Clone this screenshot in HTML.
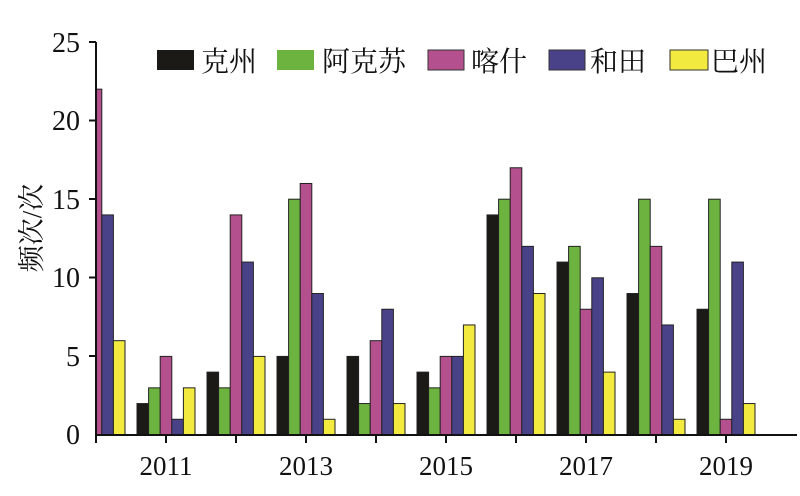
<!DOCTYPE html>
<html><head><meta charset="utf-8"><style>
body{margin:0;background:#fff}
svg text{font-family:"Liberation Serif","Noto Serif CJK SC",serif;fill:#111}
.a{fill:#1c1a17}.b{fill:#6db33f}.c{fill:#b5508f}.d{fill:#4a4289}.e{fill:#f2ea3f}
</style></head><body>
<svg width="800" height="491" viewBox="0 0 800 491" xmlns="http://www.w3.org/2000/svg">
<defs><clipPath id="cl"><rect x="96" y="0" width="710" height="436"/></clipPath></defs>
<g clip-path="url(#cl)" stroke="#222" stroke-width="1">
<!-- 2010 -->
<rect class="c" x="90.2" y="89.16" width="11.6" height="345.84"/>
<rect class="d" x="101.8" y="214.92" width="11.6" height="220.08"/>
<rect class="e" x="113.4" y="340.68" width="11.6" height="94.32"/>
<!-- 2011 -->
<rect class="a" x="137" y="403.56" width="11.6" height="31.44"/>
<rect class="b" x="148.6" y="387.84" width="11.6" height="47.16"/>
<rect class="c" x="160.2" y="356.4" width="11.6" height="78.6"/>
<rect class="d" x="171.8" y="419.28" width="11.6" height="15.72"/>
<rect class="e" x="183.4" y="387.84" width="11.6" height="47.16"/>
<!-- 2012 -->
<rect class="a" x="207" y="372.12" width="11.6" height="62.88"/>
<rect class="b" x="218.6" y="387.84" width="11.6" height="47.16"/>
<rect class="c" x="230.2" y="214.92" width="11.6" height="220.08"/>
<rect class="d" x="241.8" y="262.08" width="11.6" height="172.92"/>
<rect class="e" x="253.4" y="356.4" width="11.6" height="78.6"/>
<!-- 2013 -->
<rect class="a" x="277" y="356.4" width="11.6" height="78.6"/>
<rect class="b" x="288.6" y="199.2" width="11.6" height="235.8"/>
<rect class="c" x="300.2" y="183.48" width="11.6" height="251.52"/>
<rect class="d" x="311.8" y="293.52" width="11.6" height="141.48"/>
<rect class="e" x="323.4" y="419.28" width="11.6" height="15.72"/>
<!-- 2014 -->
<rect class="a" x="347" y="356.4" width="11.6" height="78.6"/>
<rect class="b" x="358.6" y="403.56" width="11.6" height="31.44"/>
<rect class="c" x="370.2" y="340.68" width="11.6" height="94.32"/>
<rect class="d" x="381.8" y="309.24" width="11.6" height="125.76"/>
<rect class="e" x="393.4" y="403.56" width="11.6" height="31.44"/>
<!-- 2015 -->
<rect class="a" x="417" y="372.12" width="11.6" height="62.88"/>
<rect class="b" x="428.6" y="387.84" width="11.6" height="47.16"/>
<rect class="c" x="440.2" y="356.4" width="11.6" height="78.6"/>
<rect class="d" x="451.8" y="356.4" width="11.6" height="78.6"/>
<rect class="e" x="463.4" y="324.96" width="11.6" height="110.04"/>
<!-- 2016 -->
<rect class="a" x="487" y="214.92" width="11.6" height="220.08"/>
<rect class="b" x="498.6" y="199.2" width="11.6" height="235.8"/>
<rect class="c" x="510.2" y="167.76" width="11.6" height="267.24"/>
<rect class="d" x="521.8" y="246.36" width="11.6" height="188.64"/>
<rect class="e" x="533.4" y="293.52" width="11.6" height="141.48"/>
<!-- 2017 -->
<rect class="a" x="557" y="262.08" width="11.6" height="172.92"/>
<rect class="b" x="568.6" y="246.36" width="11.6" height="188.64"/>
<rect class="c" x="580.2" y="309.24" width="11.6" height="125.76"/>
<rect class="d" x="591.8" y="277.8" width="11.6" height="157.2"/>
<rect class="e" x="603.4" y="372.12" width="11.6" height="62.88"/>
<!-- 2018 -->
<rect class="a" x="627" y="293.52" width="11.6" height="141.48"/>
<rect class="b" x="638.6" y="199.2" width="11.6" height="235.8"/>
<rect class="c" x="650.2" y="246.36" width="11.6" height="188.64"/>
<rect class="d" x="661.8" y="324.96" width="11.6" height="110.04"/>
<rect class="e" x="673.4" y="419.28" width="11.6" height="15.72"/>
<!-- 2019 -->
<rect class="a" x="697" y="309.24" width="11.6" height="125.76"/>
<rect class="b" x="708.6" y="199.2" width="11.6" height="235.8"/>
<rect class="c" x="720.2" y="419.28" width="11.6" height="15.72"/>
<rect class="d" x="731.8" y="262.08" width="11.6" height="172.92"/>
<rect class="e" x="743.4" y="403.56" width="11.6" height="31.44"/>
</g>
<g stroke="#111" stroke-width="2" fill="none">
<line x1="96" y1="42" x2="96" y2="435"/>
<line x1="95" y1="435" x2="797" y2="435"/>
<line x1="96" y1="435" x2="96" y2="443"/><line x1="166" y1="435" x2="166" y2="443"/>
<line x1="236" y1="435" x2="236" y2="443"/><line x1="306" y1="435" x2="306" y2="443"/>
<line x1="376" y1="435" x2="376" y2="443"/><line x1="446" y1="435" x2="446" y2="443"/>
<line x1="516" y1="435" x2="516" y2="443"/><line x1="586" y1="435" x2="586" y2="443"/>
<line x1="656" y1="435" x2="656" y2="443"/><line x1="726" y1="435" x2="726" y2="443"/>
<line x1="89" y1="42" x2="96" y2="42"/><line x1="89" y1="120.5" x2="96" y2="120.5"/>
<line x1="89" y1="199" x2="96" y2="199"/><line x1="89" y1="277.5" x2="96" y2="277.5"/>
<line x1="89" y1="356" x2="96" y2="356"/>
</g>
<g font-size="28" text-anchor="end">
<text x="80" y="52">25</text><text x="80" y="130">20</text><text x="80" y="209">15</text>
<text x="80" y="287">10</text><text x="80" y="366">5</text><text x="80" y="444">0</text>
</g>
<g font-size="27" text-anchor="middle">
<text x="166" y="475">2011</text><text x="306" y="475">2013</text><text x="446" y="475">2015</text>
<text x="586" y="475">2017</text><text x="726" y="475">2019</text>
</g>
<text font-size="27" transform="translate(41,228) rotate(-90)" text-anchor="middle">频次/次</text>
<g font-size="28">
<rect x="157" y="50" width="37" height="20" fill="#1c1a17"/><text x="201" y="71">克州</text>
<rect x="277" y="50" width="37" height="20" fill="#6db33f"/><text x="322" y="71">阿克苏</text>
<rect x="428" y="50" width="36" height="20" fill="#b5508f" stroke="#333"/><text x="471" y="71">喀什</text>
<rect x="549" y="50" width="36" height="20" fill="#4a4289" stroke="#333"/><text x="590" y="71">和田</text>
<rect x="670" y="50" width="38" height="20" fill="#f2ea3f" stroke="#333"/><text x="711" y="71">巴州</text>
</g>
</svg>
</body></html>
